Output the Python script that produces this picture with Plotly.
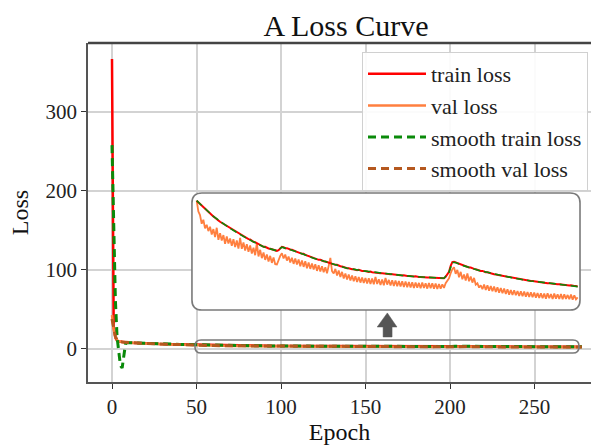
import plotly.graph_objects as go

# ---------------- data ----------------
epochs = list(range(0, 279))

train_loss = [
    367, 28, 14, 10.5, 9.4, 9.0, 8.7, 8.5, 8.3, 8.1,
    7.95, 7.8, 7.7, 7.6, 7.5, 7.4, 7.3, 7.2, 7.1, 7.0,
    6.95, 6.9, 6.8, 6.75, 6.7, 6.6, 6.55, 6.5, 6.4, 6.35,
    6.3, 6.25, 6.2, 6.15, 6.1, 6.05, 6.0, 5.95, 5.9, 5.85,
    5.8, 5.75, 5.7, 5.65, 5.6, 5.55, 5.5, 5.42, 5.36, 5.31,
    5.27, 5.22, 5.17, 5.13, 5.07, 5.03, 4.99, 4.93, 4.89, 4.85,
    4.80, 4.76, 4.73, 4.68, 4.64, 4.61, 4.57, 4.53, 4.51, 4.47,
    4.44, 4.42, 4.38, 4.35, 4.33, 4.29, 4.27, 4.25, 4.21, 4.18,
    4.14, 4.12, 4.11, 4.07, 4.04, 4.03, 4.00, 3.97, 3.96, 3.92,
    3.89, 3.89, 3.86, 3.84, 3.83, 3.81, 3.79, 3.79, 3.77, 3.79,
    3.85, 3.89, 3.88, 3.85, 3.85, 3.82, 3.81, 3.80, 3.77, 3.76,
    3.74, 3.73, 3.70, 3.68, 3.68, 3.65, 3.63, 3.62, 3.59, 3.57,
    3.55, 3.55, 3.52, 3.50, 3.50, 3.47, 3.46, 3.45, 3.43, 3.41,
    3.40, 3.39, 3.37, 3.35, 3.35, 3.32, 3.31, 3.30, 3.28, 3.26,
    3.25, 3.25, 3.23, 3.22, 3.22, 3.20, 3.19, 3.20, 3.18, 3.17,
    3.17, 3.17, 3.15, 3.14, 3.15, 3.13, 3.12, 3.13, 3.11, 3.10,
    3.10, 3.10, 3.09, 3.08, 3.09, 3.07, 3.07, 3.07, 3.06, 3.05,
    3.05, 3.05, 3.04, 3.03, 3.04, 3.02, 3.02, 3.02, 3.01, 3.00,
    3.00, 3.01, 2.99, 2.99, 2.99, 2.98, 2.98, 2.98, 2.97, 2.97,
    2.97, 2.97, 2.96, 2.96, 2.97, 2.96, 2.95, 2.96, 2.95, 2.99,
    3.05, 3.14, 3.32, 3.43, 3.44, 3.42, 3.41, 3.38, 3.37, 3.34,
    3.32, 3.31, 3.29, 3.27, 3.27, 3.24, 3.23, 3.22, 3.20, 3.18,
    3.17, 3.17, 3.14, 3.13, 3.13, 3.11, 3.10, 3.09, 3.07, 3.06,
    3.05, 3.05, 3.03, 3.02, 3.02, 3.00, 2.99, 2.99, 2.97, 2.96,
    2.95, 2.95, 2.93, 2.93, 2.93, 2.91, 2.90, 2.90, 2.89, 2.88,
    2.87, 2.87, 2.86, 2.85, 2.85, 2.83, 2.83, 2.83, 2.81, 2.81,
    2.80, 2.80, 2.79, 2.78, 2.79, 2.77, 2.77, 2.77, 2.76, 2.75,
    2.75, 2.75, 2.74, 2.73, 2.74, 2.72, 2.72, 2.72, 2.70,
]

val_loss = [
    43, 24, 15, 11, 9.6, 9.1, 8.8, 8.6, 8.4, 8.2,
    8.0, 7.9, 7.7, 7.65, 7.5, 7.45, 7.3, 7.25, 7.1, 7.05,
    6.9, 6.85, 6.7, 6.7, 6.55, 6.5, 6.4, 6.35, 6.25, 6.2,
    6.1, 6.1, 5.95, 5.95, 5.85, 5.8, 5.7, 5.7, 5.6, 5.6,
    5.5, 5.5, 5.45, 5.4, 5.4, 5.35, 5.35, 5.3, 5.32, 5.29,
    5.27, 4.95, 4.84, 4.58, 4.70, 4.44, 4.55, 4.36, 4.49, 4.26,
    4.42, 4.18, 4.46, 4.10, 4.30, 4.08, 4.24, 3.98, 4.20, 3.99,
    4.14, 3.92, 4.12, 3.88, 4.08, 3.84, 4.16, 3.83, 4.02, 3.78,
    3.97, 3.74, 3.93, 3.69, 3.86, 3.64, 4.00, 3.60, 3.80, 3.55,
    3.72, 3.50, 3.66, 3.45, 3.62, 3.41, 3.57, 3.37, 3.36, 3.52,
    3.62, 3.70, 3.54, 3.66, 3.48, 3.60, 3.42, 3.56, 3.38, 3.54,
    3.36, 3.51, 3.31, 3.48, 3.29, 3.46, 3.25, 3.42, 3.23, 3.39,
    3.21, 3.37, 3.17, 3.34, 3.15, 3.31, 3.13, 3.28, 3.10, 3.32,
    3.56, 3.16, 3.09, 3.23, 3.03, 3.18, 2.99, 3.14, 2.94, 3.09,
    2.91, 3.06, 2.88, 3.03, 2.86, 3.01, 2.84, 2.99, 2.82, 2.97,
    2.81, 2.96, 2.79, 2.95, 2.78, 2.94, 2.77, 2.99, 2.78, 2.92,
    2.75, 2.91, 2.74, 2.96, 2.76, 2.90, 2.73, 2.89, 2.72, 2.88,
    2.71, 2.87, 2.70, 2.86, 2.69, 2.85, 2.68, 2.84, 2.67, 2.83,
    2.66, 2.82, 2.67, 2.81, 2.65, 2.82, 2.66, 2.80, 2.64, 2.81,
    2.65, 2.80, 2.64, 2.79, 2.63, 2.78, 2.64, 2.77, 2.66, 2.80,
    2.86, 2.95, 3.10, 3.22, 3.28, 3.08, 3.20, 2.98, 3.14, 2.92,
    3.06, 2.88, 3.09, 2.86, 3.00, 2.82, 2.96, 2.76, 2.80, 2.67,
    2.74, 2.62, 2.76, 2.60, 2.74, 2.58, 2.72, 2.56, 2.70, 2.54,
    2.68, 2.52, 2.66, 2.50, 2.64, 2.48, 2.62, 2.46, 2.60, 2.45,
    2.59, 2.44, 2.57, 2.42, 2.56, 2.41, 2.55, 2.40, 2.54, 2.39,
    2.53, 2.38, 2.52, 2.37, 2.51, 2.36, 2.50, 2.35, 2.49, 2.34,
    2.50, 2.35, 2.48, 2.33, 2.49, 2.34, 2.47, 2.33, 2.48, 2.32,
    2.47, 2.33, 2.45, 2.32, 2.46, 2.31, 2.44, 2.32, 2.38,
]

smooth_train_epochs = [0, 1, 2, 3, 4, 5, 6, 7, 8, 9, 10, 15, 20, 25, 30, 35, 40, 45,
                       50, 60, 70, 80, 90, 98, 101, 105, 110, 120, 130, 140, 150, 160,
                       170, 180, 190, 198, 201, 203, 205, 210, 220, 230, 240, 250, 260,
                       270, 278]
smooth_train_loss = [258, 160, 62, 15, -8, -21, -24, -9, 6.5, 8.0, 7.9, 7.4, 6.95, 6.6,
                     6.3, 6.05, 5.8, 5.55, 5.27, 4.80, 4.44, 4.14, 3.89, 3.77, 3.88, 3.82,
                     3.74, 3.55, 3.40, 3.25, 3.17, 3.10, 3.05, 3.00, 2.97, 2.95, 3.13,
                     3.42, 3.42, 3.32, 3.17, 3.05, 2.95, 2.87, 2.80, 2.75, 2.70]

smooth_val_epochs = [0, 1, 2, 3, 4, 5, 6, 8, 10, 15, 20, 25, 30, 40, 50, 60, 70, 80, 90,
                     100, 110, 120, 130, 140, 150, 160, 170, 180, 190, 200, 205, 210,
                     220, 230, 240, 250, 260, 270, 278]
smooth_val_loss = [38, 25, 16, 11.5, 9.8, 9.1, 8.8, 8.4, 8.0, 7.45, 6.9, 6.5, 6.1, 5.5,
                   5.1, 4.30, 4.05, 3.87, 3.58, 3.52, 3.43, 3.29, 3.22, 3.00, 2.89, 2.84,
                   2.80, 2.75, 2.72, 2.86, 3.14, 3.00, 2.71, 2.61, 2.52, 2.46, 2.42, 2.40,
                   2.38]

x_ticks = [0, 50, 100, 150, 200, 250]
y_ticks = [0, 100, 200, 300]
zoom_start = 50

# ---------------- styling ----------------
FONT = "Liberation Serif, Times New Roman, serif"
C_TRAIN = "#ff0000"
C_VAL = "#ff7f3f"
C_STRAIN = "#0a8a0a"
C_SVAL = "#b5581f"

fig = go.Figure()

fig.add_trace(go.Scatter(x=epochs, y=train_loss, mode="lines", name="train loss",
                         line=dict(color=C_TRAIN, width=2.5)))
fig.add_trace(go.Scatter(x=epochs, y=val_loss, mode="lines", name="val loss",
                         line=dict(color=C_VAL, width=2.5)))
fig.add_trace(go.Scatter(x=smooth_train_epochs, y=smooth_train_loss, mode="lines",
                         name="smooth train loss",
                         line=dict(color=C_STRAIN, width=3, dash="8px,5px")))
fig.add_trace(go.Scatter(x=smooth_val_epochs, y=smooth_val_loss, mode="lines",
                         name="smooth val loss",
                         line=dict(color=C_SVAL, width=3, dash="8px,5px")))

# inset (zoomed view of epochs >= 50)
ie = [e for e in epochs if e >= zoom_start]
fig.add_trace(go.Scatter(x=ie, y=[val_loss[e] for e in ie], mode="lines", showlegend=False,
                         line=dict(color=C_VAL, width=1.8), xaxis="x2", yaxis="y2"))
fig.add_trace(go.Scatter(x=ie, y=[train_loss[e] for e in ie], mode="lines", showlegend=False,
                         line=dict(color=C_TRAIN, width=2.0), xaxis="x2", yaxis="y2"))
st = [(e, v) for e, v in zip(smooth_train_epochs, smooth_train_loss) if e >= zoom_start]
fig.add_trace(go.Scatter(x=[p[0] for p in st], y=[p[1] for p in st], mode="lines",
                         showlegend=False,
                         line=dict(color=C_STRAIN, width=1.6, dash="7px,4px"),
                         xaxis="x2", yaxis="y2"))

W, H = 591, 445
ML, MR, MT, MB = 88, 0, 43, 63
pw, ph = W - ML - MR, H - MT - MB


def rounded_rect(x0, x1, y0, y1, rx, ry):
    return (f"M{x0+rx},{y0} L{x1-rx},{y0} Q{x1},{y0} {x1},{y0+ry} "
            f"L{x1},{y1-ry} Q{x1},{y1} {x1-rx},{y1} L{x0+rx},{y1} "
            f"Q{x0},{y1} {x0},{y1-ry} L{x0},{y0+ry} Q{x0},{y0} {x0+rx},{y0} Z")


shapes = [
    dict(type="path", xref="x", yref="y", layer="above",
         path=rounded_rect(47.3, 276.9, 49.4, 197.5, 5.9, 12.7),
         line=dict(color="#7a7a7a", width=1.6)),
    dict(type="path", xref="x", yref="y", layer="above",
         path=rounded_rect(49.1, 276.3, -5.1, 11.4, 3.6, 7.6),
         line=dict(color="#7a7a7a", width=1.6)),
    dict(type="path", xref="x", yref="y", layer="above",
         path=("M160.4,15.2 L165.7,15.2 L165.7,27.8 L168.6,27.8 L162.9,45.6 "
               "L156.9,27.8 L160.4,27.8 Z"),
         fillcolor="#555555", line=dict(color="#555555", width=0.5)),
]

axis_common = dict(
    showgrid=True, gridcolor="#d3d3d3", gridwidth=1.5, zeroline=False,
    showline=True, linecolor="#555555", linewidth=1.5,
    ticks="outside", ticklen=5, tickwidth=1.3, tickcolor="#333333",
    tickfont=dict(family=FONT, size=21, color="#222222"),
)

fig.update_layout(
    width=W, height=H,
    margin=dict(l=ML, r=MR, t=MT, b=MB),
    paper_bgcolor="white", plot_bgcolor="white",
    font=dict(family=FONT, color="#222222"),
    title=dict(text="A Loss Curve", x=346 / W, xanchor="center",
               y=1 - 25 / H, yanchor="middle",
               font=dict(family=FONT, size=30, color="#111111")),
    xaxis=dict(range=[-14.2, 283.4], tickvals=x_ticks, mirror=False,
               title=dict(text="Epoch", font=dict(family=FONT, size=24, color="#111111"),
                          standoff=4),
               **axis_common),
    yaxis=dict(range=[-41.8, 387.3], tickvals=y_ticks,
               title=dict(text="Loss", font=dict(family=FONT, size=24, color="#111111"),
                          standoff=10),
               **axis_common),
    xaxis2=dict(domain=[(192 - ML) / pw, (580 - ML) / pw], range=[47.2, 279.4],
                anchor="y2", visible=False),
    yaxis2=dict(domain=[(H - MB - 310) / ph, (H - MB - 193) / ph], range=[2.0, 5.5],
                anchor="x2", visible=False),
    legend=dict(x=(362 - ML) / pw, y=(H - MB - 52) / ph, xanchor="left", yanchor="top",
                bgcolor="rgba(255,255,255,0.9)", bordercolor="#d0d0d0", borderwidth=1,
                font=dict(family=FONT, size=22, color="#222222"),
                itemwidth=58),
    shapes=shapes + [
        dict(type="line", xref="paper", yref="paper", x0=0, x1=1, y0=1, y1=1,
             line=dict(color="#444444", width=2.5)),
    ],
    showlegend=True,
)

fig.write_html("out.html")
